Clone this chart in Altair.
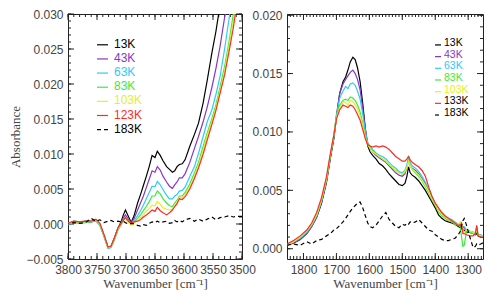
import altair as alt
import pandas as pd

# ---------------- data: left panel (O-H stretch region) ----------------
wn_left = [3800, 3790, 3780, 3770, 3760, 3752, 3745, 3738, 3731, 3726, 3720, 3714, 3709, 3705,
           3701, 3696, 3691, 3686, 3680, 3675, 3670, 3665, 3660, 3655, 3650, 3646, 3641, 3636,
           3630, 3625, 3620, 3616, 3612, 3608, 3603, 3598, 3590, 3582, 3575, 3567, 3560, 3552,
           3545, 3538, 3530, 3522, 3515, 3508, 3500]
k13_left = [0.0000, 0.0003, 0.0002, 0.0003, 0.0003, 0.0006, 0.0000, -0.0016, -0.0033, -0.0032, -0.0020, -0.0006, 0.0002, 0.0012,
            0.0020, 0.0011, 0.0002, 0.0012, 0.0030, 0.0042, 0.0055, 0.0068, 0.0082, 0.0098, 0.0095, 0.0104, 0.0098, 0.0090,
            0.0082, 0.0078, 0.0074, 0.0076, 0.0082, 0.0085, 0.0086, 0.0092, 0.0111, 0.0128, 0.0144, 0.0173, 0.0205, 0.0244,
            0.0275, 0.0312, 0.0350, 0.0390, 0.0420, 0.0450, 0.0480]
k43_left = [0.0001, 0.0004, 0.0003, 0.0004, 0.0004, 0.0005, -0.0001, -0.0017, -0.0034, -0.0033, -0.0021, -0.0007, 0.0001, 0.0008,
            0.0013, 0.0007, 0.0002, 0.0008, 0.0020, 0.0030, 0.0040, 0.0052, 0.0064, 0.0076, 0.0074, 0.0082, 0.0077, 0.0068,
            0.0060, 0.0054, 0.0051, 0.0056, 0.0060, 0.0066, 0.0066, 0.0072, 0.0088, 0.0108, 0.0125, 0.0146, 0.0167, 0.0195,
            0.0222, 0.0253, 0.0295, 0.0330, 0.0360, 0.0390, 0.0420]
k63_left = [-0.0001, 0.0002, 0.0001, 0.0002, 0.0003, 0.0004, -0.0002, -0.0018, -0.0035, -0.0034, -0.0023, -0.0009, -0.0002, 0.0004,
            0.0010, 0.0005, 0.0000, 0.0005, 0.0012, 0.0019, 0.0027, 0.0036, 0.0045, 0.0054, 0.0053, 0.0061, 0.0056, 0.0049,
            0.0041, 0.0036, 0.0036, 0.0040, 0.0042, 0.0047, 0.0048, 0.0053, 0.0068, 0.0082, 0.0101, 0.0125, 0.0146, 0.0163,
            0.0185, 0.0210, 0.0250, 0.0295, 0.0330, 0.0360, 0.0390]
k83_left = [0.0000, 0.0003, 0.0002, 0.0003, 0.0003, 0.0005, -0.0001, -0.0017, -0.0034, -0.0033, -0.0022, -0.0008, -0.0001, 0.0005,
            0.0010, 0.0005, -0.0001, 0.0003, 0.0008, 0.0013, 0.0019, 0.0025, 0.0032, 0.0040, 0.0040, 0.0047, 0.0043, 0.0036,
            0.0030, 0.0026, 0.0025, 0.0030, 0.0034, 0.0040, 0.0040, 0.0045, 0.0057, 0.0073, 0.0088, 0.0111, 0.0130, 0.0150,
            0.0170, 0.0195, 0.0225, 0.0262, 0.0300, 0.0340, 0.0370]
k103_left = [0.0001, 0.0003, 0.0003, 0.0003, 0.0004, 0.0006, 0.0000, -0.0016, -0.0034, -0.0033, -0.0021, -0.0007, -0.0001, 0.0004,
             0.0009, 0.0003, -0.0002, 0.0002, 0.0005, 0.0009, 0.0013, 0.0018, 0.0022, 0.0027, 0.0026, 0.0032, 0.0028, 0.0023,
             0.0021, 0.0020, 0.0021, 0.0026, 0.0031, 0.0038, 0.0038, 0.0042, 0.0053, 0.0068, 0.0084, 0.0106, 0.0126, 0.0146,
             0.0166, 0.0190, 0.0218, 0.0255, 0.0290, 0.0330, 0.0360]
k123_left = [0.0001, 0.0004, 0.0003, 0.0004, 0.0004, 0.0007, 0.0001, -0.0015, -0.0033, -0.0032, -0.0020, -0.0006, 0.0000, 0.0005,
             0.0009, 0.0004, 0.0001, 0.0003, 0.0004, 0.0006, 0.0010, 0.0013, 0.0016, 0.0020, 0.0018, 0.0024, 0.0019, 0.0016,
             0.0013, 0.0016, 0.0020, 0.0025, 0.0029, 0.0036, 0.0035, 0.0039, 0.0050, 0.0065, 0.0080, 0.0100, 0.0120, 0.0142,
             0.0162, 0.0186, 0.0213, 0.0248, 0.0280, 0.0320, 0.0350]
k183_left = [0.0000, 0.0002, 0.0001, 0.0002, 0.0008, 0.0004, 0.0006, 0.0002, 0.0004, 0.0005, 0.0003, 0.0004, 0.0003, 0.0004,
             0.0002, 0.0000, 0.0001, 0.0000, -0.0002, -0.0003, -0.0001, -0.0002, 0.0001, 0.0003, 0.0002, 0.0004, 0.0002, 0.0003,
             0.0004, 0.0001, 0.0002, 0.0005, 0.0003, 0.0005, 0.0003, 0.0006, 0.0008, 0.0004, 0.0007, 0.0004, 0.0007, 0.0010,
             0.0006, 0.0009, 0.0010, 0.0012, 0.0010, 0.0011, 0.0011]

# ---------------- data: right panel (bending region) ----------------
wn_right = [1850, 1830, 1810, 1790, 1775, 1760, 1745, 1730, 1718, 1708, 1700, 1690, 1680, 1672, 1665, 1658,
            1650, 1643, 1636, 1628, 1620, 1612, 1605, 1598, 1590, 1580, 1570, 1560, 1550, 1540, 1530, 1520,
            1510, 1500, 1492, 1486, 1481, 1476, 1470, 1460, 1450, 1440, 1430, 1420, 1410, 1400, 1390, 1380,
            1370, 1360, 1350, 1340, 1330, 1324, 1320, 1316, 1312, 1305, 1295, 1285, 1278, 1274, 1270, 1262, 1255]
k13_right = [0.0003, 0.0005, 0.0008, 0.0013, 0.0019, 0.0027, 0.0039, 0.0057, 0.0078, 0.0094, 0.0112, 0.0133, 0.0143, 0.0147, 0.0153, 0.0160,
             0.0164, 0.0162, 0.0155, 0.0143, 0.0124, 0.0102, 0.0088, 0.0083, 0.0080, 0.0077, 0.0073, 0.0071, 0.0068, 0.0064, 0.0061, 0.0058,
             0.0055, 0.0054, 0.0056, 0.0062, 0.0070, 0.0065, 0.0063, 0.0061, 0.0058, 0.0054, 0.0050, 0.0045, 0.0040, 0.0035, 0.0029, 0.0026,
             0.0024, 0.0023, 0.0022, 0.0021, 0.0019, 0.0018, 0.0017, 0.0016, 0.0016, 0.0014, 0.0014, 0.0013, 0.0012, 0.0013, 0.0011, 0.0010, 0.0010]
k43_right = [0.0003, 0.0005, 0.0008, 0.0013, 0.0019, 0.0027, 0.0040, 0.0058, 0.0079, 0.0095, 0.0114, 0.0133, 0.0141, 0.0145, 0.0148, 0.0151,
             0.0153, 0.0150, 0.0145, 0.0136, 0.0120, 0.0102, 0.0090, 0.0086, 0.0083, 0.0080, 0.0078, 0.0076, 0.0074, 0.0071, 0.0068, 0.0065,
             0.0063, 0.0062, 0.0064, 0.0070, 0.0076, 0.0071, 0.0069, 0.0067, 0.0064, 0.0060, 0.0056, 0.0050, 0.0044, 0.0038, 0.0033, 0.0029,
             0.0027, 0.0025, 0.0024, 0.0022, 0.0021, 0.0020, 0.0019, 0.0018, 0.0018, 0.0016, 0.0015, 0.0014, 0.0013, 0.0015, 0.0012, 0.0011, 0.0011]
k63_right = [0.0003, 0.0006, 0.0009, 0.0014, 0.0020, 0.0028, 0.0041, 0.0059, 0.0080, 0.0096, 0.0114, 0.0129, 0.0135, 0.0139, 0.0137, 0.0141,
             0.0142, 0.0140, 0.0135, 0.0128, 0.0115, 0.0100, 0.0091, 0.0088, 0.0085, 0.0082, 0.0080, 0.0079, 0.0077, 0.0074, 0.0071, 0.0069,
             0.0066, 0.0065, 0.0067, 0.0072, 0.0079, 0.0074, 0.0071, 0.0069, 0.0066, 0.0062, 0.0057, 0.0051, 0.0045, 0.0039, 0.0034, 0.0030,
             0.0028, 0.0026, 0.0025, 0.0023, 0.0021, 0.0021, 0.0020, 0.0019, 0.0019, 0.0016, 0.0015, 0.0014, 0.0014, 0.0019, 0.0012, 0.0012, 0.0011]
k83_right = [0.0003, 0.0006, 0.0010, 0.0015, 0.0021, 0.0029, 0.0042, 0.0060, 0.0081, 0.0097, 0.0113, 0.0123, 0.0127, 0.0128, 0.0127, 0.0130,
             0.0129, 0.0127, 0.0123, 0.0117, 0.0107, 0.0096, 0.0090, 0.0087, 0.0084, 0.0081, 0.0079, 0.0077, 0.0075, 0.0072, 0.0069, 0.0067,
             0.0065, 0.0064, 0.0066, 0.0070, 0.0076, 0.0071, 0.0068, 0.0065, 0.0062, 0.0058, 0.0053, 0.0048, 0.0042, 0.0037, 0.0032, 0.0028,
             0.0026, 0.0024, 0.0023, 0.0021, 0.0020, 0.0019, 0.0010, 0.0002, 0.0003, 0.0015, 0.0014, 0.0013, 0.0013, 0.0016, 0.0012, 0.0011, 0.0010]
k103_right = [0.0003, 0.0006, 0.0010, 0.0015, 0.0021, 0.0029, 0.0042, 0.0060, 0.0081, 0.0097, 0.0112, 0.0121, 0.0125, 0.0125, 0.0123, 0.0127,
              0.0126, 0.0123, 0.0120, 0.0114, 0.0105, 0.0095, 0.0089, 0.0086, 0.0083, 0.0081, 0.0079, 0.0077, 0.0075, 0.0072, 0.0070, 0.0067,
              0.0065, 0.0064, 0.0066, 0.0070, 0.0075, 0.0071, 0.0068, 0.0066, 0.0063, 0.0059, 0.0054, 0.0049, 0.0043, 0.0038, 0.0033, 0.0029,
              0.0027, 0.0025, 0.0024, 0.0022, 0.0021, 0.0023, 0.0022, 0.0016, 0.0014, 0.0016, 0.0015, 0.0014, 0.0013, 0.0017, 0.0012, 0.0011, 0.0011]
k133_right = [0.0004, 0.0007, 0.0011, 0.0016, 0.0022, 0.0031, 0.0044, 0.0062, 0.0082, 0.0097, 0.0111, 0.0119, 0.0123, 0.0122, 0.0121, 0.0123,
              0.0122, 0.0119, 0.0115, 0.0110, 0.0102, 0.0094, 0.0089, 0.0088, 0.0087, 0.0088, 0.0087, 0.0088, 0.0087, 0.0085, 0.0082, 0.0079,
              0.0077, 0.0075, 0.0075, 0.0077, 0.0079, 0.0076, 0.0074, 0.0072, 0.0070, 0.0067, 0.0062, 0.0053, 0.0045, 0.0039, 0.0035, 0.0031,
              0.0028, 0.0026, 0.0024, 0.0022, 0.0020, 0.0020, 0.0022, 0.0013, 0.0013, 0.0012, 0.0011, 0.0011, 0.0013, 0.0020, 0.0011, 0.0010, 0.0010]
k183_right = [0.0003, 0.0004, 0.0003, 0.0006, 0.0004, 0.0007, 0.0008, 0.0011, 0.0013, 0.0016, 0.0017, 0.0020, 0.0023, 0.0026, 0.0029, 0.0032,
              0.0035, 0.0037, 0.0039, 0.0040, 0.0035, 0.0028, 0.0022, 0.0019, 0.0018, 0.0020, 0.0024, 0.0028, 0.0031, 0.0025, 0.0022, 0.0019,
              0.0018, 0.0021, 0.0020, 0.0022, 0.0021, 0.0023, 0.0022, 0.0023, 0.0025, 0.0022, 0.0019, 0.0016, 0.0015, 0.0012, 0.0010, 0.0008,
              0.0007, 0.0007, 0.0008, 0.0009, 0.0012, 0.0015, 0.0020, 0.0024, 0.0026, 0.0020, 0.0010, 0.0001, 0.0002, 0.0004, 0.0003, 0.0004, 0.0005]

labels_left = ["13K", "43K", "63K", "83K", "103K", "123K", "183K"]
labels_right = ["13K", "43K", "63K", "83K", "103K", "133K", "183K"]
series_left = [k13_left, k43_left, k63_left, k83_left, k103_left, k123_left, k183_left]
series_right = [k13_right, k43_right, k63_right, k83_right, k103_right, k133_right, k183_right]
colors = ["#000000", "#8836c4", "#2ecbf6", "#3aec3a", "#e4f020", "#ff2a2a", "#000000"]
dashed = [False, False, False, False, False, False, True]

# axis tick values
xmaj_left = [3800, 3750, 3700, 3650, 3600, 3550, 3500]
xmin_left = list(range(3500, 3801, 10))
ymaj_left = [-0.005, 0.000, 0.005, 0.010, 0.015, 0.020, 0.025, 0.030]
ymin_left = [round(-0.005 + 0.001 * i, 3) for i in range(36)]
xmaj_right = [1800, 1700, 1600, 1500, 1400, 1300]
xmin_right = list(range(1260, 1850, 10))
ymaj_right = [0.000, 0.005, 0.010, 0.015, 0.020]
ymin_right = [round(0.001 * i, 3) for i in range(21)]

FONT_L = "Liberation Sans"
FONT_T = "Liberation Serif"
TXT = "#444444"
H = 245


def panel(wn, series, labels, xdom, ydom, W, xmaj, xmin, ymaj, ymin, ytitle,
          leg_top, leg_step, leg_x1, leg_x2, leg_tx, leg_dy, leg_fs):
    xs = alt.Scale(domain=xdom, nice=False, zero=False)
    ys = alt.Scale(domain=ydom, nice=False, zero=False)
    xaxis = alt.Axis(values=xmaj, format="d", ticks=False, domain=False, grid=False,
                     labelFont=FONT_L, labelFontSize=12, labelColor=TXT, labelPadding=5,
                     labelFlush=False, labelOverlap=False, labelBound=False,
                     title="Wavenumber [cm\u207b\u00b9]", titleFont=FONT_T, titleFontSize=13,
                     titleColor=TXT, titleFontWeight="normal", titlePadding=2)
    if ytitle:
        yaxis = alt.Axis(values=ymaj, format=".3f", ticks=False, domain=False, grid=False,
                         labelFont=FONT_L, labelFontSize=12, labelColor=TXT, labelPadding=5,
                         labelFlush=False, labelOverlap=False,
                         title=ytitle, titleFont=FONT_T, titleFontSize=13, titleColor=TXT,
                         titleFontWeight="normal", titlePadding=3)
    else:
        yaxis = alt.Axis(values=ymaj, format=".3f", ticks=False, domain=False, grid=False,
                         labelFont=FONT_L, labelFontSize=12, labelColor=TXT, labelPadding=5,
                         labelFlush=False, labelOverlap=False, title=None)
    X = alt.X("wn:Q", scale=xs, axis=xaxis)
    Y = alt.Y("A:Q", scale=ys, axis=yaxis)

    layers = []
    # tick marks (inward), major and minor, on all four sides
    for vals, ln in ((xmaj, 6), (xmin, 3)):
        d = pd.DataFrame({"wn": vals})
        layers.append(alt.Chart(d).mark_rule(color="#222222", strokeWidth=1).encode(
            x=X, y=alt.value(H), y2=alt.value(H - ln)))
        layers.append(alt.Chart(d).mark_rule(color="#222222", strokeWidth=1).encode(
            x=X, y=alt.value(0), y2=alt.value(ln)))
    for vals, ln in ((ymaj, 6), (ymin, 3)):
        d = pd.DataFrame({"A": vals})
        layers.append(alt.Chart(d).mark_rule(color="#222222", strokeWidth=1).encode(
            y=Y, x=alt.value(0), x2=alt.value(ln)))
        layers.append(alt.Chart(d).mark_rule(color="#222222", strokeWidth=1).encode(
            y=Y, x=alt.value(W), x2=alt.value(W - ln)))

    # spectra
    for vals, lab, col, dsh in zip(series, labels, colors, dashed):
        d = pd.DataFrame({"wn": wn, "A": vals})
        props = dict(color=col, strokeWidth=1.2, clip=True)
        if dsh:
            props["strokeDash"] = [4, 3]
        layers.append(alt.Chart(d).mark_line(**props).encode(x=X, y=Y, order="wn:Q"))

    # legend (lines + coloured labels)
    leg = pd.DataFrame({"label": labels,
                        "A": [leg_top - i * leg_step for i in range(len(labels))]})
    for i, (lab, col, dsh) in enumerate(zip(labels, colors, dashed)):
        d = leg.iloc[[i]]
        props = dict(color=col, strokeWidth=1.2)
        if dsh:
            props["strokeDash"] = [4, 3]
        layers.append(alt.Chart(d).mark_rule(**props).encode(
            y=Y, x=alt.value(leg_x1), x2=alt.value(leg_x2)))
    layers.append(alt.Chart(leg).mark_text(align="left", baseline="middle", font=FONT_L,
                                            fontSize=leg_fs, dy=leg_dy).encode(
        y=Y, x=alt.value(leg_tx), text="label:N",
        color=alt.Color("label:N", scale=alt.Scale(domain=labels, range=colors), legend=None)))

    return alt.layer(*layers).properties(width=W, height=H)


left = panel(wn_left, series_left, labels_left, [3800, 3500], [-0.005, 0.030], 174,
             xmaj_left, xmin_left, ymaj_left, ymin_left, "Absorbance",
             0.0256, 0.00202, 29, 40, 46, -1, 12)
right = panel(wn_right, series_right, labels_right, [1850, 1255], [-0.00088, 0.0201], 196,
              xmaj_right, xmin_right, ymaj_right, ymin_right, None,
              0.01745, 0.001, 148, 154, 157, -2, 10.5)

chart = alt.hconcat(
    left, right, spacing=45, bounds="flush",
    autosize=alt.AutoSizeParams(type="none"),
    padding={"left": 60, "top": 6, "right": 420, "bottom": 276},
).configure_view(stroke="#222222", strokeWidth=1)

chart.save("out.html", embed_options={"renderer": "svg", "actions": False})
